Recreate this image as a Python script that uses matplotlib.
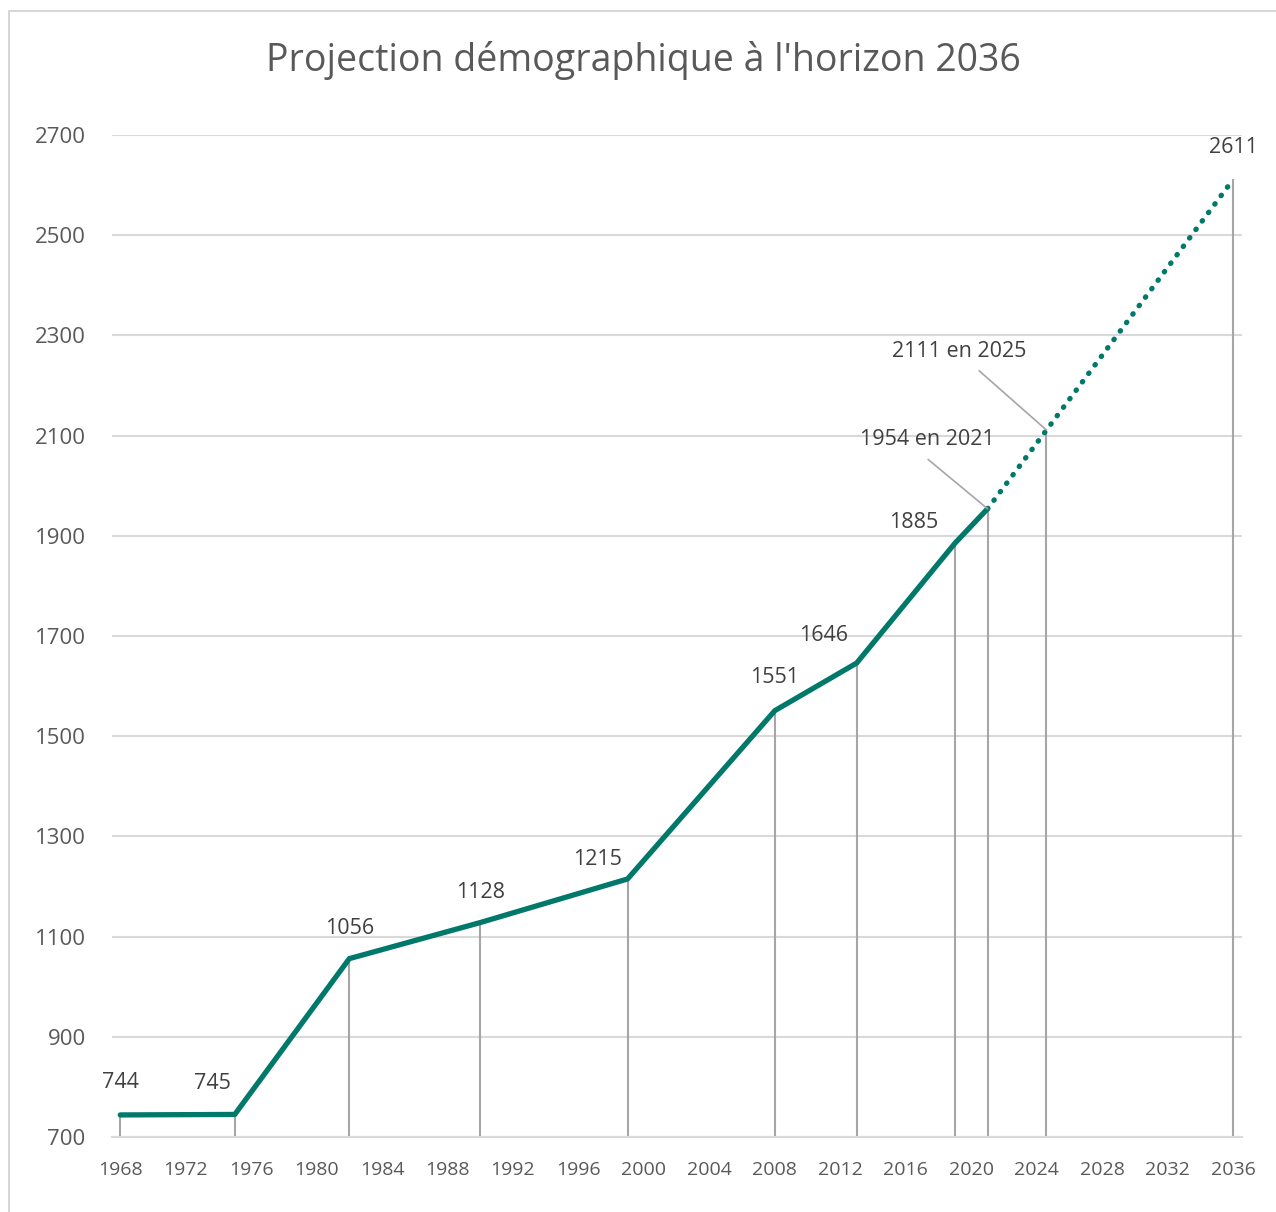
"""Projection démographique à l'horizon 2036"""

import matplotlib.pyplot as plt
from matplotlib.patches import Rectangle

plt.rcParams['font.family'] = ['Open Sans', 'DejaVu Sans']

# Données observées (trait plein)
annees = [1968, 1975, 1982, 1990, 1999, 2008, 2013, 2019, 2021]
population = [744, 745, 1056, 1128, 1215, 1551, 1646, 1885, 1954]

# Projection (pointillés)
annees_proj = [2021, 2024.6, 2036]
population_proj = [1954, 2111, 2611]

x_ticks = list(range(1968, 2037, 4))
y_ticks = list(range(700, 2701, 200))

# décalage des étiquettes (points)
decalages = [(0, 23), (-16, 22), (0, 22), (0, 22), (-22, 14),
             (0, 24), (-24, 20), (-30, 15)]

couleur = '#00786A'
gris = '#A6A6A6'
texte = '#404040'

fig = plt.figure(figsize=(12.76, 12.12), dpi=100)
ax = fig.add_axes([0.0878, 0.0619, 0.8856, 0.8267])

# cadre de la figure
fig.patches.append(Rectangle((9 / 1276, -0.1), 1.2, 1 - 11 / 1212 + 0.1,
                             transform=fig.transFigure, fill=False,
                             edgecolor='#D0D0D0', linewidth=1.2))

# lignes de chute
for x, y in zip(annees + annees_proj[1:], population + population_proj[1:]):
    ax.plot([x, x], [700, y], color=gris, linewidth=1.5, zorder=2)

ax.plot(annees, population, color=couleur, linewidth=3.8, zorder=3,
        solid_capstyle='round')
ax.plot(annees_proj, population_proj, color=couleur, linewidth=3.8, zorder=3,
        linestyle=(0, (0.1, 1.9)), dash_capstyle='round')

# étiquettes
for x, y, d in zip(annees, population, decalages):
    ax.annotate(str(y), (x, y), xytext=d, textcoords='offset points',
                ha='center', va='center', fontsize=15.5, color=texte)
ax.annotate(str(population_proj[-1]), (annees_proj[-1], population_proj[-1]),
            xytext=(0, 23), textcoords='offset points',
            ha='center', va='center', fontsize=15.5, color=texte)

ax.annotate('1954 en 2021', (annees[-1], population[-1]), xytext=(2017.3, 2093),
            textcoords='data', ha='center', va='center', fontsize=15.5, color=texte,
            arrowprops=dict(arrowstyle='-', color=gris, linewidth=1.2,
                            relpos=(0.42, 0), shrinkA=8, shrinkB=0))
ax.annotate('2111 en 2025', (annees_proj[1], population_proj[1]), xytext=(2019.25, 2267),
            textcoords='data', ha='center', va='center', fontsize=15.5, color=texte,
            arrowprops=dict(arrowstyle='-', color=gris, linewidth=1.2,
                            relpos=(0.58, 0), shrinkA=6, shrinkB=0))

fig.text(0.504, 1 - 60 / 1212, "Projection démographique à l'horizon 2036",
         fontsize=27, color='#595959', ha='center', va='center')

ax.set_xlim(1967.5, 2036.55)
ax.set_ylim(700, 2700)
ax.set_xticks(x_ticks)
ax.set_yticks(y_ticks)
ax.tick_params(axis='x', labelsize=14, colors='#595959', length=0, pad=17)
ax.tick_params(axis='y', labelsize=16, colors='#595959', length=0, pad=19)
ax.grid(axis='y', color='#D9D9D9', linewidth=1.5)
ax.set_axisbelow(True)
for s in ['top', 'right', 'left']:
    ax.spines[s].set_visible(False)
ax.spines['bottom'].set_color('#D9D9D9')
ax.spines['bottom'].set_linewidth(1.5)

fig.savefig('out.png', dpi=100)
